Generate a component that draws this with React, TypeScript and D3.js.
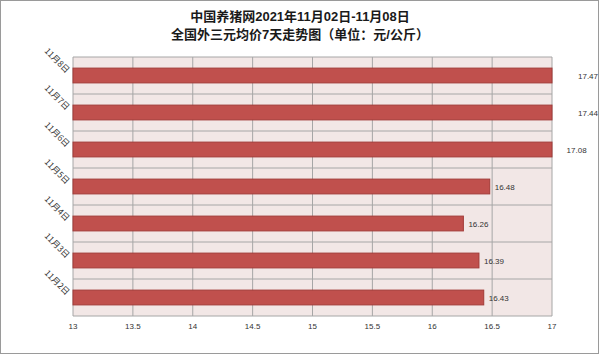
import React from "react";
import * as d3 from "d3";

const categories = ["11月2日", "11月3日", "11月4日", "11月5日", "11月6日", "11月7日", "11月8日"];
const values = [16.43, 16.39, 16.26, 16.48, 17.08, 17.44, 17.47];
const tickValues = [13, 13.5, 14, 14.5, 15, 15.5, 16, 16.5, 17];
const titleLine1 = "中国养猪网2021年11月02日-11月08日";
const titleLine2 = "全国外三元均价7天走势图（单位：元/公斤）";

const W = 600;
const H = 355;
const left = 73;
const right = 552;
const top = 57;
const bottom = 316;

export default function App() {
  const x = d3.scaleLinear().domain([13, 17]).range([left, right]);
  const y = d3
    .scaleBand<string>()
    .domain([...categories].reverse())
    .range([top, bottom])
    .paddingInner(0.6)
    .paddingOuter(0.3);
  const step = y.step();
  const font = "'Liberation Sans', 'Noto Sans CJK SC', sans-serif";
  const titleFont = "'Liberation Sans', 'Noto Sans CJK SC', sans-serif";
  return (
    <svg
      width={W}
      height={H}
      style={{ position: "absolute", left: 0, top: 0, background: "#fff" }}
      fontFamily={font}
    >
      <rect x={0.5} y={0.5} width={W - 2} height={H - 2} fill="#fff" stroke="#9a9a9a" strokeWidth={1} />
      <text x={300} y={21} textAnchor="middle" fontSize={13} fontWeight="bold" fill="#1a1a1a" fontFamily={titleFont}>
        {titleLine1}
      </text>
      <text x={300} y={39} textAnchor="middle" fontSize={13} fontWeight="bold" fill="#1a1a1a" fontFamily={titleFont}>
        {titleLine2}
      </text>
      <rect x={left} y={top} width={right - left} height={bottom - top} fill="#F2E7E6" />
      {tickValues.map((t) => (
        <line key={"v" + t} x1={x(t)} x2={x(t)} y1={top} y2={bottom} stroke="#a6a6a6" strokeWidth={1} />
      ))}
      {categories.map((c, i) => {
        const b = top + i * step;
        return <line key={"h" + i} x1={left} x2={right} y1={b} y2={b} stroke="#a6a6a6" strokeWidth={1} />;
      })}
      <line x1={left} x2={right} y1={bottom} y2={bottom} stroke="#a6a6a6" strokeWidth={1} />
      {categories.map((c, i) => {
        const v = values[i];
        const x1 = x(Math.min(v, 17));
        const by = y(c)!;
        return (
          <g key={"b" + c}>
            <rect
              x={left}
              y={by}
              width={x1 - left}
              height={y.bandwidth()}
              fill="#C0504D"
              stroke="#A23B38"
              strokeWidth={1}
            />
            <text
              x={Math.min(x(v) + 5, 578)}
              y={by + y.bandwidth() / 2 + 3}
              fontSize={8}
              fill="#333"
            >
              {v.toFixed(2)}
            </text>
          </g>
        );
      })}
      {tickValues.map((t) => (
        <text key={"t" + t} x={x(t)} y={329} textAnchor="middle" fontSize={8} fill="#333">
          {String(t)}
        </text>
      ))}
      {categories.map((c) => {
        const cy = y(c)! + y.bandwidth() / 2 - 2;
        return (
          <text
            key={"c" + c}
            transform={`translate(66,${cy}) rotate(45)`}
            textAnchor="end"
            fontSize={8.5}
            fill="#333"
            fontFamily="'Noto Sans CJK SC', sans-serif"
          >
            {c}
          </text>
        );
      })}
    </svg>
  );
}
